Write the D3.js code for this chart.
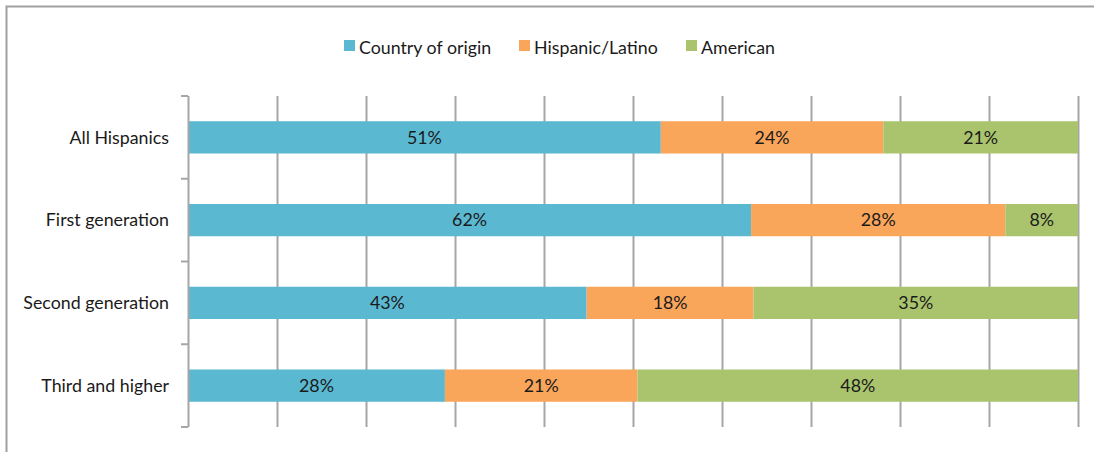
<!DOCTYPE html>
<html>
<head>
<meta charset="utf-8">
<script src="https://cdn.jsdelivr.net/npm/d3@7"></script>
<style>
  html, body { margin: 0; padding: 0; background: #fff; }
  svg { display: block; }
  text { font-family: Lato, "Open Sans", sans-serif; fill: #1a1a1a; }
</style>
</head>
<body>
<svg id="chart" width="1094" height="452"></svg>
<script>
const categories = ["All Hispanics", "First generation", "Second generation", "Third and higher"];
const seriesNames = ["Country of origin", "Hispanic/Latino", "American"];
const countryOfOrigin = [51, 62, 43, 28];
const hispanicLatino = [24, 28, 18, 21];
const american = [21, 8, 35, 48];
const colors = ["#5BB8D1", "#F9A55A", "#A9C46D"];

const seriesValues = [countryOfOrigin, hispanicLatino, american];
const rows = categories.map((c, i) => {
  const o = { category: c };
  seriesNames.forEach((s, j) => o[s] = seriesValues[j][i]);
  return o;
});

const svg = d3.select("#chart");
const W = 1094, H = 452;
const FS = 17.8;

// outer frame
svg.append("rect").attr("x", 6.5).attr("y", 6.5).attr("width", W + 10).attr("height", H + 10)
  .attr("fill", "none").attr("stroke", "#a0a0a0").attr("stroke-width", 2);

const pLeft = 188, pRight = 1078, pTop = 96, pBottom = 427;

const stack = d3.stack().keys(seriesNames).offset(d3.stackOffsetExpand);
const stacked = stack(rows);

const x = d3.scaleLinear().domain([0, 1]).range([pLeft, pRight]);
const y = d3.scaleBand().domain(categories).range([pTop, pBottom]).paddingInner(0.61).paddingOuter(0.305);
const yTicks = d3.scaleBand().domain(categories).range([pTop, pBottom]);

// gridlines
const gridVals = d3.range(0, 1.0001, 0.1);
svg.append("g").selectAll("line").data(gridVals.slice(1)).join("line")
  .attr("x1", d => Math.round(x(d)) + 0.5).attr("x2", d => Math.round(x(d)) + 0.5)
  .attr("y1", pTop).attr("y2", pBottom)
  .attr("stroke", "#a6a6a6").attr("stroke-width", 2);

// bars
const g = svg.append("g");
stacked.forEach((layer, j) => {
  g.append("g").selectAll("rect").data(layer).join("rect")
    .attr("x", d => x(d[0]))
    .attr("width", d => x(d[1]) - x(d[0]))
    .attr("y", d => y(d.data.category))
    .attr("height", y.bandwidth())
    .attr("fill", colors[j]);
  g.append("g").selectAll("text").data(layer).join("text")
    .attr("x", d => (x(d[0]) + x(d[1])) / 2)
    .attr("y", d => y(d.data.category) + y.bandwidth() / 2)
    .attr("dy", "0.35em")
    .attr("text-anchor", "middle")
    .attr("font-size", FS)
    .text(d => d.data[seriesNames[j]] + "%");
});

// y axis
svg.append("line").attr("x1", pLeft + 0.5).attr("x2", pLeft + 0.5).attr("y1", pTop).attr("y2", pBottom)
  .attr("stroke", "#a6a6a6").attr("stroke-width", 2);
const tickYs = categories.map(c => yTicks(c)).concat([pBottom]);
svg.append("g").selectAll("line").data(tickYs).join("line")
  .attr("x1", pLeft - 7).attr("x2", pLeft).attr("y1", d => d).attr("y2", d => d)
  .attr("stroke", "#a6a6a6").attr("stroke-width", 2);
svg.append("g").selectAll("text").data(categories).join("text")
  .attr("x", 169)
  .attr("y", d => yTicks(d) + yTicks.bandwidth() / 2)
  .attr("dy", "0.35em")
  .attr("text-anchor", "end")
  .attr("font-size", FS)
  .text(d => d);

// legend
const legendX = [344, 519, 686];
const lg = svg.append("g");
seriesNames.forEach((s, j) => {
  lg.append("rect").attr("x", legendX[j]).attr("y", 40).attr("width", 11).attr("height", 11).attr("fill", colors[j]);
  lg.append("text").attr("x", legendX[j] + 15).attr("y", 54).attr("font-size", FS).text(s);
});
</script>
</body>
</html>
